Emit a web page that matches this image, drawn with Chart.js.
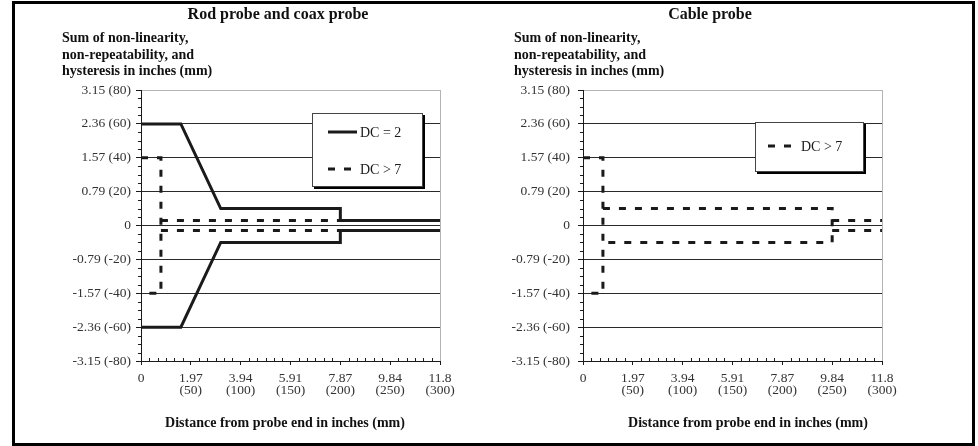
<!DOCTYPE html>
<html>
<head>
<meta charset="utf-8">
<script src="https://cdn.jsdelivr.net/npm/chart.js@4.4.1/dist/chart.umd.min.js"></script>
<style>
  body { margin: 0; background: #fff; }
  #wrap { position: relative; width: 978px; height: 446px; overflow: hidden; font-family: 'Liberation Serif', serif; color: #111; }
  #frame { position: absolute; left: 12px; top: 1px; width: 963px; height: 445px; box-sizing: border-box; border: 3px solid #000; }
  canvas { position: absolute; top: 0; }
  .title { position: absolute; width: 400px; text-align: center; font-weight: bold; font-size: 16px; line-height: 16px; top: 6px; }
  .ytitle { position: absolute; font-weight: bold; font-size: 14px; line-height: 16.5px; top: 30px; white-space: nowrap; }
  .xtitle { position: absolute; width: 400px; text-align: center; font-weight: bold; font-size: 14px; line-height: 16px; top: 415px; }
</style>
</head>
<body>
<div id="wrap">
  <div id="frame"></div>
  <canvas id="rodChart" width="489" height="446" style="left:0"></canvas>
  <canvas id="cableChart" width="489" height="446" style="left:489px"></canvas>
  <div class="title" style="left:78px">Rod probe and coax probe</div>
  <div class="title" style="left:510px">Cable probe</div>
  <div class="ytitle" style="left:62px">Sum of non-linearity,<br>non-repeatability, and<br>hysteresis in inches (mm)</div>
  <div class="ytitle" style="left:514px">Sum of non-linearity,<br>non-repeatability, and<br>hysteresis in inches (mm)</div>
  <div class="xtitle" style="left:85px">Distance from probe end in inches (mm)</div>
  <div class="xtitle" style="left:548px">Distance from probe end in inches (mm)</div>
</div>
<script>
'use strict';

/* ---- data: [distance mm, deviation mm] ---- */
const xTicksMm = [0, 50, 100, 150, 200, 250, 300];
const xTickLabels = [['0'], ['1.97', '(50)'], ['3.94', '(100)'], ['5.91', '(150)'], ['7.87', '(200)'], ['9.84', '(250)'], ['11.8', '(300)']];
const yTicksMm = [-80, -60, -40, -20, 0, 20, 40, 60, 80];
const yTickLabels = ['-3.15 (-80)', '-2.36 (-60)', '-1.57 (-40)', '-0.79 (-20)', '0', '0.79 (20)', '1.57 (40)', '2.36 (60)', '3.15 (80)'];

// Rod probe and coax probe
const rodDc2Upper = [[0, 60], [40, 60], [80, 10], [200, 10], [200, 3], [300, 3]];
const rodDc2Lower = [[0, -60], [40, -60], [80, -10], [200, -10], [200, -3], [300, -3]];
const rodDc7End = [[0, 40], [20, 40], [20, -40], [0, -40]];
const rodDc7Upper = [[20, 3], [300, 3]];
const rodDc7Lower = [[20, -3], [300, -3]];

// Cable probe
const cableDc7End = [[0, 40], [20, 40], [20, -40], [0, -40]];
const cableDc7Mid = [[20, 10], [250, 10], [250, -10], [20, -10]];
const cableDc7Upper = [[250, 3], [300, 3]];
const cableDc7Lower = [[250, -3], [300, -3]];

/* ---- styles ---- */
const INK = '#1a1a1a';
const GRID = '#2a2a2a';
const FRAME_GREY = '#b4b4b4';
const LABEL = '#333';
const FONT = "'Liberation Serif', serif";

function toPoints(arr) {
    return arr.map(p => ({ x: p[0], y: p[1] }));
}

function solidSet(label, arr) {
    return { label, data: toPoints(arr), borderColor: INK, borderWidth: 3, pointRadius: 0, tension: 0, fill: false, borderJoinStyle: 'miter' };
}

function dashedSet(label, arr) {
    return { label, data: toPoints(arr), borderColor: INK, borderWidth: 3, borderDash: [7, 9], pointRadius: 0, tension: 0, fill: false, borderJoinStyle: 'miter' };
}

/* minor tick marks, drawn through the scales */
const minorTicks = {
    id: 'minorTicks',
    afterDraw(chart) {
        const { ctx, chartArea, scales } = chart;
        ctx.save();
        ctx.strokeStyle = INK;
        ctx.lineWidth = 1;
        ctx.beginPath();
        for (let v = -80; v <= 80; v += 5) {
            if (v % 20 === 0) continue;
            const y = Math.round(scales.y.getPixelForValue(v)) + 0.5;
            ctx.moveTo(chartArea.left - 3, y);
            ctx.lineTo(chartArea.left, y);
        }
        for (let i = 1; i < 36; i++) {
            if (i % 6 === 0) continue;
            const x = Math.round(scales.x.getPixelForValue(i * 50 / 6)) + 0.5;
            ctx.moveTo(x, chartArea.bottom);
            ctx.lineTo(x, chartArea.bottom - 3);
        }
        ctx.stroke();
        ctx.restore();
    }
};

/* boxed legend with drop shadow */
const boxLegend = {
    id: 'boxLegend',
    afterDatasetsDraw(chart, args, opts) {
        const { ctx } = chart;
        const b = opts.box;
        ctx.save();
        ctx.fillStyle = '#000';
        ctx.fillRect(b.x + 2, b.y + 2, b.w, b.h);
        ctx.fillStyle = '#fff';
        ctx.fillRect(b.x, b.y, b.w, b.h);
        ctx.strokeStyle = '#444';
        ctx.lineWidth = 1;
        ctx.strokeRect(b.x + 0.5, b.y + 0.5, b.w - 1, b.h - 1);
        opts.items.forEach(it => {
            const ds = chart.data.datasets[it.dataset];
            ctx.strokeStyle = ds.borderColor;
            ctx.lineWidth = ds.borderWidth;
            ctx.setLineDash(ds.borderDash || []);
            ctx.beginPath();
            ctx.moveTo(it.x0, it.y);
            ctx.lineTo(it.x1, it.y);
            ctx.stroke();
            ctx.setLineDash([]);
            ctx.fillStyle = INK;
            ctx.font = '14px ' + FONT;
            ctx.textBaseline = 'middle';
            ctx.fillText(ds.label, it.tx, it.y + 1);
        });
        ctx.restore();
    }
};

function makeOptions(area, legend) {
    return {
        responsive: false,
        animation: false,
        devicePixelRatio: 1,
        layout: { padding: { left: 0, top: area.top, right: area.right, bottom: area.bottom } },
        plugins: {
            legend: { display: false },
            tooltip: { enabled: false },
            boxLegend: legend,
        },
        scales: {
            x: {
                type: 'linear',
                min: 0,
                max: 300,
                afterBuildTicks: s => { s.ticks = xTicksMm.map(v => ({ value: v })); },
                afterFit: s => { s.height = 40; s.paddingLeft = 0; s.paddingRight = 0; },
                ticks: {
                    autoSkip: false,
                    maxRotation: 0,
                    padding: 7,
                    color: LABEL,
                    font: { family: FONT, size: 13.5, lineHeight: 0.93 },
                    callback: (v, i) => xTickLabels[i],
                },
                grid: {
                    color: c => (c.tick && c.tick.value === 300 ? FRAME_GREY : 'rgba(0,0,0,0)'),
                    tickColor: INK,
                    tickLength: 4,
                },
                border: { color: INK, width: 1 },
            },
            y: {
                type: 'linear',
                min: -80,
                max: 80,
                afterBuildTicks: s => { s.ticks = yTicksMm.map(v => ({ value: v })); },
                afterFit: s => { s.width = area.yWidth; s.paddingTop = 0; s.paddingBottom = 0; },
                ticks: {
                    autoSkip: false,
                    padding: area.labelPad,
                    color: LABEL,
                    font: { family: FONT, size: 13.5 },
                    callback: (v, i) => yTickLabels[i],
                },
                grid: {
                    color: c => (c.tick && c.tick.value === 80 ? FRAME_GREY : GRID),
                    tickColor: INK,
                    tickLength: 5,
                },
                border: { color: INK, width: 1 },
            },
        },
    };
}

new Chart(document.getElementById('rodChart'), {
    type: 'line',
    data: {
        datasets: [
            solidSet('DC = 2', rodDc2Upper),
            solidSet('DC = 2', rodDc2Lower),
            dashedSet('DC > 7', rodDc7End),
            dashedSet('DC > 7', rodDc7Upper),
            dashedSet('DC > 7', rodDc7Lower),
        ],
    },
    options: makeOptions(
        { top: 90, right: 49, bottom: 45, yWidth: 141, labelPad: 5 },
        {
            box: { x: 312, y: 113, w: 111, h: 74 },
            items: [
                { dataset: 0, x0: 328, x1: 357, tx: 360, y: 132 },
                { dataset: 2, x0: 328, x1: 354, tx: 360, y: 169 },
            ],
        }
    ),
    plugins: [minorTicks, boxLegend],
});

new Chart(document.getElementById('cableChart'), {
    type: 'line',
    data: {
        datasets: [
            dashedSet('DC > 7', cableDc7End),
            dashedSet('DC > 7', cableDc7Mid),
            dashedSet('DC > 7', cableDc7Upper),
            dashedSet('DC > 7', cableDc7Lower),
        ],
    },
    options: makeOptions(
        { top: 90, right: 96, bottom: 45, yWidth: 94, labelPad: 8 },
        {
            box: { x: 266, y: 122, w: 109, h: 50 },
            items: [
                { dataset: 0, x0: 279, x1: 307, tx: 312, y: 146 },
            ],
        }
    ),
    plugins: [minorTicks, boxLegend],
});
</script>
</body>
</html>
